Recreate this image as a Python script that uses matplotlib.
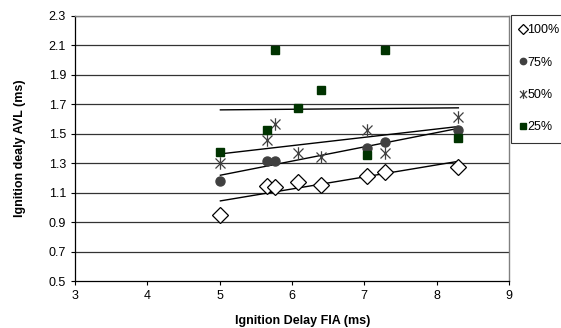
import numpy as np
import matplotlib
matplotlib.use("Agg")
import matplotlib.pyplot as plt
from matplotlib.path import Path

plt.rcParams['font.family'] = ['Liberation Sans', 'DejaVu Sans']

fia = [5.01, 5.66, 5.76, 6.08, 6.40, 7.04, 7.28, 8.30]
avl_100 = [0.948, 1.143, 1.141, 1.173, 1.155, 1.214, 1.243, 1.272]
fia_75 = [5.01, 5.66, 5.76, 7.04, 7.28, 8.30]
avl_75 = [1.177, 1.314, 1.314, 1.405, 1.443, 1.528]
avl_50 = [1.302, 1.461, 1.568, 1.370, 1.345, 1.523, 1.370, 1.615]
avl_25 = [1.378, 1.523, 2.070, 1.677, 1.800, 1.357, 2.070, 1.472]
labels = ['100%', '75%', '50%', '25%']
yticks = [0.5, 0.7, 0.9, 1.1, 1.3, 1.5, 1.7, 1.9, 2.1, 2.3]
xticks = [3, 4, 5, 6, 7, 8, 9]

star = Path([(-1, -1), (1, 1), (-1, 1), (1, -1), (0, -1.25), (0, 1.25)],
            [Path.MOVETO, Path.LINETO, Path.MOVETO, Path.LINETO, Path.MOVETO, Path.LINETO])

fig = plt.figure(figsize=(5.61, 3.28), dpi=100)
ax = fig.add_axes([75/561, 1-281/328, 434/561, 265/328])

for y in yticks[1:]:
    ax.axhline(y, color='#333333', lw=0.9, zorder=1)

def trend(x, y):
    x = np.asarray(x); y = np.asarray(y)
    p = np.polyfit(x, y, 1)
    xs = np.array([x.min(), x.max()])
    ax.plot(xs, np.polyval(p, xs), color='black', lw=1.0, zorder=2)

trend(fia, avl_100)
trend(fia_75, avl_75)
trend(fia, avl_50)
trend(fia, avl_25)

h1, = ax.plot(fia, avl_100, ls='none', marker='D', ms=8, mfc='white', mec='black', mew=0.9, zorder=3)
h2, = ax.plot(fia_75, avl_75, ls='none', marker='o', ms=6.5, mfc='#404040', mec='#404040', zorder=3)
h3, = ax.plot(fia, avl_50, ls='none', marker=star, ms=9, mec='#404040', mew=0.9, zorder=3)
h4, = ax.plot(fia, avl_25, ls='none', marker='s', ms=6, mfc='#003300', mec='#003300', zorder=3)

ax.set_xlim(3, 9)
ax.set_ylim(0.5, 2.3)
ax.set_xticks(xticks)
ax.set_yticks(yticks)
ax.set_yticklabels([f'{v:.1f}' for v in yticks])
ax.tick_params(axis='both', labelsize=9, direction='out', length=3, width=0.8, color='black', pad=3.5)
for s in ['left', 'bottom']:
    ax.spines[s].set_color('black')
    ax.spines[s].set_linewidth(0.9)
for s in ['top', 'right']:
    ax.spines[s].set_color('#808080')
    ax.spines[s].set_linewidth(1.0)

ax.set_xlabel('Ignition Delay FIA (ms)', fontsize=9, fontweight='bold')
ax.set_ylabel('Ignition dealy AVL (ms)', fontsize=9, fontweight='bold')
ax.xaxis.set_label_coords(0.525, -0.128)
ax.yaxis.set_label_coords(-0.113, 0.5)

lg = fig.legend([h1, h2, h3, h4], labels, loc='upper left',
                bbox_to_anchor=(511/561, 1-15/328), fontsize=9, frameon=True,
                fancybox=False, borderpad=0.75, labelspacing=1.62, handlelength=0.45,
                handletextpad=0.1, borderaxespad=0, markerscale=0.7)
lg.get_frame().set_edgecolor('black')
lg.get_frame().set_linewidth(0.8)

fig.savefig('out.png', dpi=100)
